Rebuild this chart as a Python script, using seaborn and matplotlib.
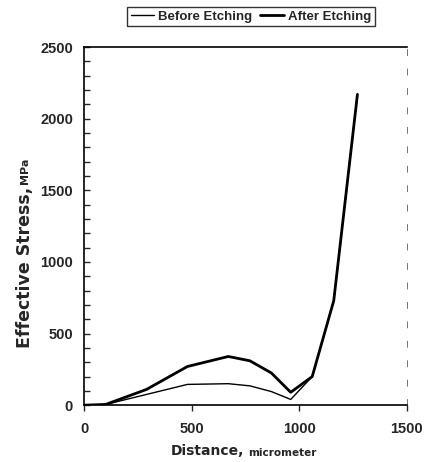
import numpy as np
import pandas as pd
import matplotlib
matplotlib.use("Agg")
import matplotlib.pyplot as plt
import seaborn as sns
from matplotlib.ticker import MultipleLocator

# data
distance = [0, 100, 290, 480, 670, 770, 870, 960, 1060, 1160, 1270]
before_etching = [0, 5, 75, 145, 150, 135, 95, 40, 200, 730, 2170]
after_etching = [0, 5, 110, 270, 340, 310, 225, 90, 200, 730, 2170]

df = pd.DataFrame({
    "Distance": distance * 2,
    "Stress": before_etching + after_etching,
    "Condition": ["Before Etching"] * len(distance) + ["After Etching"] * len(distance),
})

sns.set_style("white")
plt.rcParams["font.family"] = ["Liberation Sans", "DejaVu Sans"]
plt.rcParams["font.weight"] = "bold"

fig = plt.figure(figsize=(4.27, 4.62), dpi=100)
ax = fig.add_axes([0.197, 0.123, 0.756, 0.775])

sns.lineplot(data=df[df.Condition == "Before Etching"], x="Distance", y="Stress",
             color="black", linewidth=1.0, ax=ax, label="Before Etching")
sns.lineplot(data=df[df.Condition == "After Etching"], x="Distance", y="Stress",
             color="black", linewidth=2.0, ax=ax, label="After Etching")

ax.set_xlim(0, 1500)
ax.set_ylim(0, 2500)
ax.xaxis.set_major_locator(MultipleLocator(500))
ax.yaxis.set_major_locator(MultipleLocator(500))
ax.yaxis.set_minor_locator(MultipleLocator(100))
ax.tick_params(axis="y", which="both", direction="in", left=True, length=4, width=1,
               labelsize=10.5, pad=8)
ax.tick_params(axis="x", which="major", direction="out", bottom=True, length=4, width=1,
               labelsize=10.5, pad=8)
for lab in ax.get_xticklabels() + ax.get_yticklabels():
    lab.set_fontweight("bold")

for s in ["left", "bottom", "top"]:
    ax.spines[s].set_color("black")
    ax.spines[s].set_linewidth(1.2)
ax.spines["right"].set_color("0.45")
ax.spines["right"].set_linewidth(0.7)
ax.spines["right"].set_linestyle((0, (6, 14)))

ax.set_xlabel("")
ax.set_ylabel("")

# axis titles with the small unit part
fig.text(0.572, 0.008, "Distance,", ha="right", va="bottom", fontsize=10,
         fontweight="bold", family="DejaVu Sans")
fig.text(0.582, 0.008, "micrometer", ha="left", va="bottom", fontsize=7.5,
         fontweight="bold", family="DejaVu Sans")
fig.text(0.058, 0.595, "Effective Stress,", ha="center", va="top", rotation=90,
         fontsize=12.5, fontweight="bold", family="DejaVu Sans")
fig.text(0.058, 0.602, "MPa", ha="center", va="bottom", rotation=90,
         fontsize=8, fontweight="bold", family="DejaVu Sans")

leg = ax.legend(loc="upper center", bbox_to_anchor=(0.588, 0.999), bbox_transform=fig.transFigure,
                ncol=2, frameon=True, fancybox=False, handlelength=1.8, handletextpad=0.3,
                columnspacing=0.6, borderpad=0.25, fontsize=9.5)
leg.get_frame().set_edgecolor("black")
leg.get_frame().set_linewidth(1.0)
for t in leg.get_texts():
    t.set_fontweight("bold")

fig.savefig("out.png", dpi=100)
